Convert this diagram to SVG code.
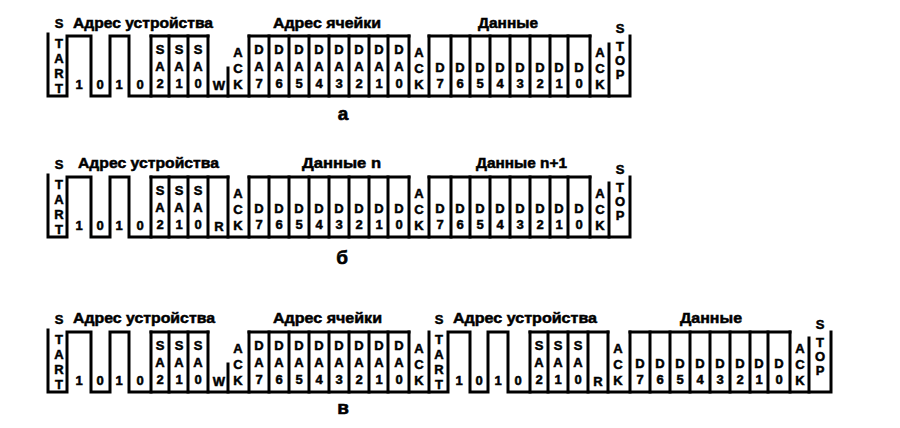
<svg xmlns="http://www.w3.org/2000/svg" width="900" height="428" viewBox="0 0 900 428">
<style>
.w{fill:none;stroke:#000;stroke-width:3;stroke-linecap:square;stroke-linejoin:miter}
.c{font-family:"Liberation Sans",Arial,sans-serif;font-weight:bold;font-size:13px;text-anchor:middle;fill:#000;stroke:#000;stroke-width:0.5}
.h{font-family:"Liberation Sans",Arial,sans-serif;font-weight:bold;font-size:14.5px;fill:#000;stroke:#000;stroke-width:0.5}
.s{font-family:"Liberation Sans",Arial,sans-serif;font-weight:bold;font-size:19px;text-anchor:middle;fill:#000;stroke:#000;stroke-width:0.6}
</style>
<rect width="900" height="428" fill="#fff"/>

<!-- Row a -->
<g id="row-a">
<g id="a-wave">
<path class="w" d="M48,34V96H67V36H91V96H110V36H129V96H630V36"/>
<path class="w" d="M151,36H208M249,36H409M429,36H590"/>
<path class="w" d="M151,36V96M169,36V96M188,36V96M208,36V96M249,36V96M269,36V96M289,36V96M309,36V96M329,36V96M349,36V96M369,36V96M388,36V96M409,36V96M429,36V96M451,36V96M470,36V96M490,36V96M510,36V96M530,36V96M550,36V96M568,36V96M590,36V96"/>
<path class="w" d="M228,68V96M609,44V96"/>
</g>
<g id="a-titles">
<text class="h" x="73" y="28" textLength="140" lengthAdjust="spacingAndGlyphs">Адрес устройства</text>
<text class="h" x="273" y="28" textLength="108" lengthAdjust="spacingAndGlyphs">Адрес ячейки</text>
<text class="h" x="478" y="28" textLength="60" lengthAdjust="spacingAndGlyphs">Данные</text>
</g>
<g id="a-labels">
<text class="c"><tspan x="59" y="28">S</tspan><tspan x="59" y="48">T</tspan><tspan x="59" y="63">A</tspan><tspan x="59" y="78">R</tspan><tspan x="59" y="93">T</tspan></text>
<text class="c" x="79" y="89">1</text><text class="c" x="100" y="89">0</text><text class="c" x="119" y="89">1</text><text class="c" x="140" y="89">0</text>
<text class="c"><tspan x="160" y="54">S</tspan><tspan x="160" y="71">A</tspan><tspan x="160" y="88">2</tspan></text>
<text class="c"><tspan x="179" y="54">S</tspan><tspan x="179" y="71">A</tspan><tspan x="179" y="88">1</tspan></text>
<text class="c"><tspan x="198" y="54">S</tspan><tspan x="198" y="71">A</tspan><tspan x="198" y="88">0</tspan></text>
<text class="c" x="219" y="90">W</text>
<text class="c"><tspan x="238" y="57">A</tspan><tspan x="238" y="73">C</tspan><tspan x="238" y="89">K</tspan></text>
<text class="c"><tspan x="259" y="54">D</tspan><tspan x="259" y="71">A</tspan><tspan x="259" y="88">7</tspan></text>
<text class="c"><tspan x="279" y="54">D</tspan><tspan x="279" y="71">A</tspan><tspan x="279" y="88">6</tspan></text>
<text class="c"><tspan x="299" y="54">D</tspan><tspan x="299" y="71">A</tspan><tspan x="299" y="88">5</tspan></text>
<text class="c"><tspan x="319" y="54">D</tspan><tspan x="319" y="71">A</tspan><tspan x="319" y="88">4</tspan></text>
<text class="c"><tspan x="339" y="54">D</tspan><tspan x="339" y="71">A</tspan><tspan x="339" y="88">3</tspan></text>
<text class="c"><tspan x="359" y="54">D</tspan><tspan x="359" y="71">A</tspan><tspan x="359" y="88">2</tspan></text>
<text class="c"><tspan x="379" y="54">D</tspan><tspan x="379" y="71">A</tspan><tspan x="379" y="88">1</tspan></text>
<text class="c"><tspan x="399" y="54">D</tspan><tspan x="399" y="71">A</tspan><tspan x="399" y="88">0</tspan></text>
<text class="c"><tspan x="419" y="57">A</tspan><tspan x="419" y="73">C</tspan><tspan x="419" y="89">K</tspan></text>
<text class="c"><tspan x="440" y="72">D</tspan><tspan x="440" y="88">7</tspan></text>
<text class="c"><tspan x="460" y="72">D</tspan><tspan x="460" y="88">6</tspan></text>
<text class="c"><tspan x="480" y="72">D</tspan><tspan x="480" y="88">5</tspan></text>
<text class="c"><tspan x="500" y="72">D</tspan><tspan x="500" y="88">4</tspan></text>
<text class="c"><tspan x="520" y="72">D</tspan><tspan x="520" y="88">3</tspan></text>
<text class="c"><tspan x="540" y="72">D</tspan><tspan x="540" y="88">2</tspan></text>
<text class="c"><tspan x="559" y="72">D</tspan><tspan x="559" y="88">1</tspan></text>
<text class="c"><tspan x="579" y="72">D</tspan><tspan x="579" y="88">0</tspan></text>
<text class="c"><tspan x="600" y="57">A</tspan><tspan x="600" y="73">C</tspan><tspan x="600" y="89">K</tspan></text>
<text class="c"><tspan x="620" y="33">S</tspan><tspan x="620" y="51">T</tspan><tspan x="620" y="65">O</tspan><tspan x="620" y="79">P</tspan></text>
</g>
</g>

<!-- Row b -->
<g id="row-b" transform="translate(0,141)">
<g id="b-wave">
<path class="w" d="M48,34V96H67V36H91V96H110V36H129V96H630V36"/>
<path class="w" d="M151,36H228M249,36H409M429,36H590"/>
<path class="w" d="M151,36V96M169,36V96M188,36V96M208,36V96M228,36V96M249,36V96M269,36V96M289,36V96M309,36V96M329,36V96M349,36V96M369,36V96M388,36V96M409,36V96M429,36V96M451,36V96M470,36V96M490,36V96M510,36V96M530,36V96M550,36V96M568,36V96M590,36V96"/>
<path class="w" d="M609,42V96"/>
</g>
<g id="b-titles">
<text class="h" x="78" y="27" textLength="141" lengthAdjust="spacingAndGlyphs">Адрес устройства</text>
<text class="h" x="302" y="27" textLength="79" lengthAdjust="spacingAndGlyphs">Данные n</text>
<text class="h" x="476" y="27" textLength="91" lengthAdjust="spacingAndGlyphs">Данные n+1</text>
</g>
<g id="b-labels">
<text class="c"><tspan x="59" y="28">S</tspan><tspan x="59" y="48">T</tspan><tspan x="59" y="63">A</tspan><tspan x="59" y="78">R</tspan><tspan x="59" y="93">T</tspan></text>
<text class="c" x="79" y="89">1</text><text class="c" x="100" y="89">0</text><text class="c" x="119" y="89">1</text><text class="c" x="140" y="89">0</text>
<text class="c"><tspan x="160" y="54">S</tspan><tspan x="160" y="71">A</tspan><tspan x="160" y="88">2</tspan></text>
<text class="c"><tspan x="179" y="54">S</tspan><tspan x="179" y="71">A</tspan><tspan x="179" y="88">1</tspan></text>
<text class="c"><tspan x="198" y="54">S</tspan><tspan x="198" y="71">A</tspan><tspan x="198" y="88">0</tspan></text>
<text class="c" x="219" y="90">R</text>
<text class="c"><tspan x="238" y="57">A</tspan><tspan x="238" y="73">C</tspan><tspan x="238" y="89">K</tspan></text>
<text class="c"><tspan x="259" y="72">D</tspan><tspan x="259" y="88">7</tspan></text>
<text class="c"><tspan x="279" y="72">D</tspan><tspan x="279" y="88">6</tspan></text>
<text class="c"><tspan x="299" y="72">D</tspan><tspan x="299" y="88">5</tspan></text>
<text class="c"><tspan x="319" y="72">D</tspan><tspan x="319" y="88">4</tspan></text>
<text class="c"><tspan x="339" y="72">D</tspan><tspan x="339" y="88">3</tspan></text>
<text class="c"><tspan x="359" y="72">D</tspan><tspan x="359" y="88">2</tspan></text>
<text class="c"><tspan x="379" y="72">D</tspan><tspan x="379" y="88">1</tspan></text>
<text class="c"><tspan x="399" y="72">D</tspan><tspan x="399" y="88">0</tspan></text>
<text class="c"><tspan x="419" y="57">A</tspan><tspan x="419" y="73">C</tspan><tspan x="419" y="89">K</tspan></text>
<text class="c"><tspan x="440" y="72">D</tspan><tspan x="440" y="88">7</tspan></text>
<text class="c"><tspan x="460" y="72">D</tspan><tspan x="460" y="88">6</tspan></text>
<text class="c"><tspan x="480" y="72">D</tspan><tspan x="480" y="88">5</tspan></text>
<text class="c"><tspan x="500" y="72">D</tspan><tspan x="500" y="88">4</tspan></text>
<text class="c"><tspan x="520" y="72">D</tspan><tspan x="520" y="88">3</tspan></text>
<text class="c"><tspan x="540" y="72">D</tspan><tspan x="540" y="88">2</tspan></text>
<text class="c"><tspan x="559" y="72">D</tspan><tspan x="559" y="88">1</tspan></text>
<text class="c"><tspan x="579" y="72">D</tspan><tspan x="579" y="88">0</tspan></text>
<text class="c"><tspan x="600" y="57">A</tspan><tspan x="600" y="73">C</tspan><tspan x="600" y="89">K</tspan></text>
<text class="c"><tspan x="620" y="33">S</tspan><tspan x="620" y="51">T</tspan><tspan x="620" y="65">O</tspan><tspan x="620" y="79">P</tspan></text>
</g>
</g>

<!-- Row c -->
<g id="row-c" transform="translate(0,296)">
<g id="c-wave">
<path class="w" d="M48,34V96H67V36H91V96H110V36H129V96H448V36H470V96H488V36H508V96H831V36"/>
<path class="w" d="M429,36V96"/>
<path class="w" d="M151,36H208M249,36H409M530,36H608M630,36H790"/>
<path class="w" d="M151,36V96M169,36V96M188,36V96M208,36V96M249,36V96M269,36V96M289,36V96M309,36V96M329,36V96M349,36V96M369,36V96M388,36V96M409,36V96M530,36V96M548,36V96M568,36V96M588,36V96M608,36V96M630,36V96M650,36V96M670,36V96M690,36V96M710,36V96M730,36V96M750,36V96M768,36V96M790,36V96"/>
<path class="w" d="M228,68V96M809,42V96"/>
</g>
<g id="c-titles">
<text class="h" x="73" y="27" textLength="142" lengthAdjust="spacingAndGlyphs">Адрес устройства</text>
<text class="h" x="273" y="27" textLength="109" lengthAdjust="spacingAndGlyphs">Адрес ячейки</text>
<text class="h" x="453" y="27" textLength="144" lengthAdjust="spacingAndGlyphs">Адрес устройства</text>
<text class="h" x="680" y="27" textLength="62" lengthAdjust="spacingAndGlyphs">Данные</text>
</g>
<g id="c-labels">
<text class="c"><tspan x="59" y="28">S</tspan><tspan x="59" y="48">T</tspan><tspan x="59" y="63">A</tspan><tspan x="59" y="78">R</tspan><tspan x="59" y="93">T</tspan></text>
<text class="c" x="79" y="89">1</text><text class="c" x="100" y="89">0</text><text class="c" x="119" y="89">1</text><text class="c" x="140" y="89">0</text>
<text class="c"><tspan x="160" y="54">S</tspan><tspan x="160" y="71">A</tspan><tspan x="160" y="88">2</tspan></text>
<text class="c"><tspan x="179" y="54">S</tspan><tspan x="179" y="71">A</tspan><tspan x="179" y="88">1</tspan></text>
<text class="c"><tspan x="198" y="54">S</tspan><tspan x="198" y="71">A</tspan><tspan x="198" y="88">0</tspan></text>
<text class="c" x="219" y="90">W</text>
<text class="c"><tspan x="238" y="57">A</tspan><tspan x="238" y="73">C</tspan><tspan x="238" y="89">K</tspan></text>
<text class="c"><tspan x="259" y="54">D</tspan><tspan x="259" y="71">A</tspan><tspan x="259" y="88">7</tspan></text>
<text class="c"><tspan x="279" y="54">D</tspan><tspan x="279" y="71">A</tspan><tspan x="279" y="88">6</tspan></text>
<text class="c"><tspan x="299" y="54">D</tspan><tspan x="299" y="71">A</tspan><tspan x="299" y="88">5</tspan></text>
<text class="c"><tspan x="319" y="54">D</tspan><tspan x="319" y="71">A</tspan><tspan x="319" y="88">4</tspan></text>
<text class="c"><tspan x="339" y="54">D</tspan><tspan x="339" y="71">A</tspan><tspan x="339" y="88">3</tspan></text>
<text class="c"><tspan x="359" y="54">D</tspan><tspan x="359" y="71">A</tspan><tspan x="359" y="88">2</tspan></text>
<text class="c"><tspan x="379" y="54">D</tspan><tspan x="379" y="71">A</tspan><tspan x="379" y="88">1</tspan></text>
<text class="c"><tspan x="399" y="54">D</tspan><tspan x="399" y="71">A</tspan><tspan x="399" y="88">0</tspan></text>
<text class="c"><tspan x="419" y="57">A</tspan><tspan x="419" y="73">C</tspan><tspan x="419" y="89">K</tspan></text>
<text class="c"><tspan x="439" y="28">S</tspan><tspan x="439" y="48">T</tspan><tspan x="439" y="63">A</tspan><tspan x="439" y="78">R</tspan><tspan x="439" y="93">T</tspan></text>
<text class="c" x="459" y="89">1</text><text class="c" x="479" y="89">0</text><text class="c" x="498" y="89">1</text><text class="c" x="518" y="89">0</text>
<text class="c"><tspan x="539" y="54">S</tspan><tspan x="539" y="71">A</tspan><tspan x="539" y="88">2</tspan></text>
<text class="c"><tspan x="558" y="54">S</tspan><tspan x="558" y="71">A</tspan><tspan x="558" y="88">1</tspan></text>
<text class="c"><tspan x="578" y="54">S</tspan><tspan x="578" y="71">A</tspan><tspan x="578" y="88">0</tspan></text>
<text class="c" x="598" y="90">R</text>
<text class="c"><tspan x="618" y="57">A</tspan><tspan x="618" y="73">C</tspan><tspan x="618" y="89">K</tspan></text>
<text class="c"><tspan x="640" y="72">D</tspan><tspan x="640" y="88">7</tspan></text>
<text class="c"><tspan x="660" y="72">D</tspan><tspan x="660" y="88">6</tspan></text>
<text class="c"><tspan x="680" y="72">D</tspan><tspan x="680" y="88">5</tspan></text>
<text class="c"><tspan x="700" y="72">D</tspan><tspan x="700" y="88">4</tspan></text>
<text class="c"><tspan x="720" y="72">D</tspan><tspan x="720" y="88">3</tspan></text>
<text class="c"><tspan x="740" y="72">D</tspan><tspan x="740" y="88">2</tspan></text>
<text class="c"><tspan x="759" y="72">D</tspan><tspan x="759" y="88">1</tspan></text>
<text class="c"><tspan x="779" y="72">D</tspan><tspan x="779" y="88">0</tspan></text>
<text class="c"><tspan x="800" y="57">A</tspan><tspan x="800" y="73">C</tspan><tspan x="800" y="89">K</tspan></text>
<text class="c"><tspan x="820" y="33">S</tspan><tspan x="820" y="51">T</tspan><tspan x="820" y="65">O</tspan><tspan x="820" y="79">P</tspan></text>
</g>
</g>

<g id="captions">
<text class="s" x="343" y="120">а</text>
<text class="s" x="342" y="264">б</text>
<text class="s" x="343" y="414">в</text>
</g>
</svg>
